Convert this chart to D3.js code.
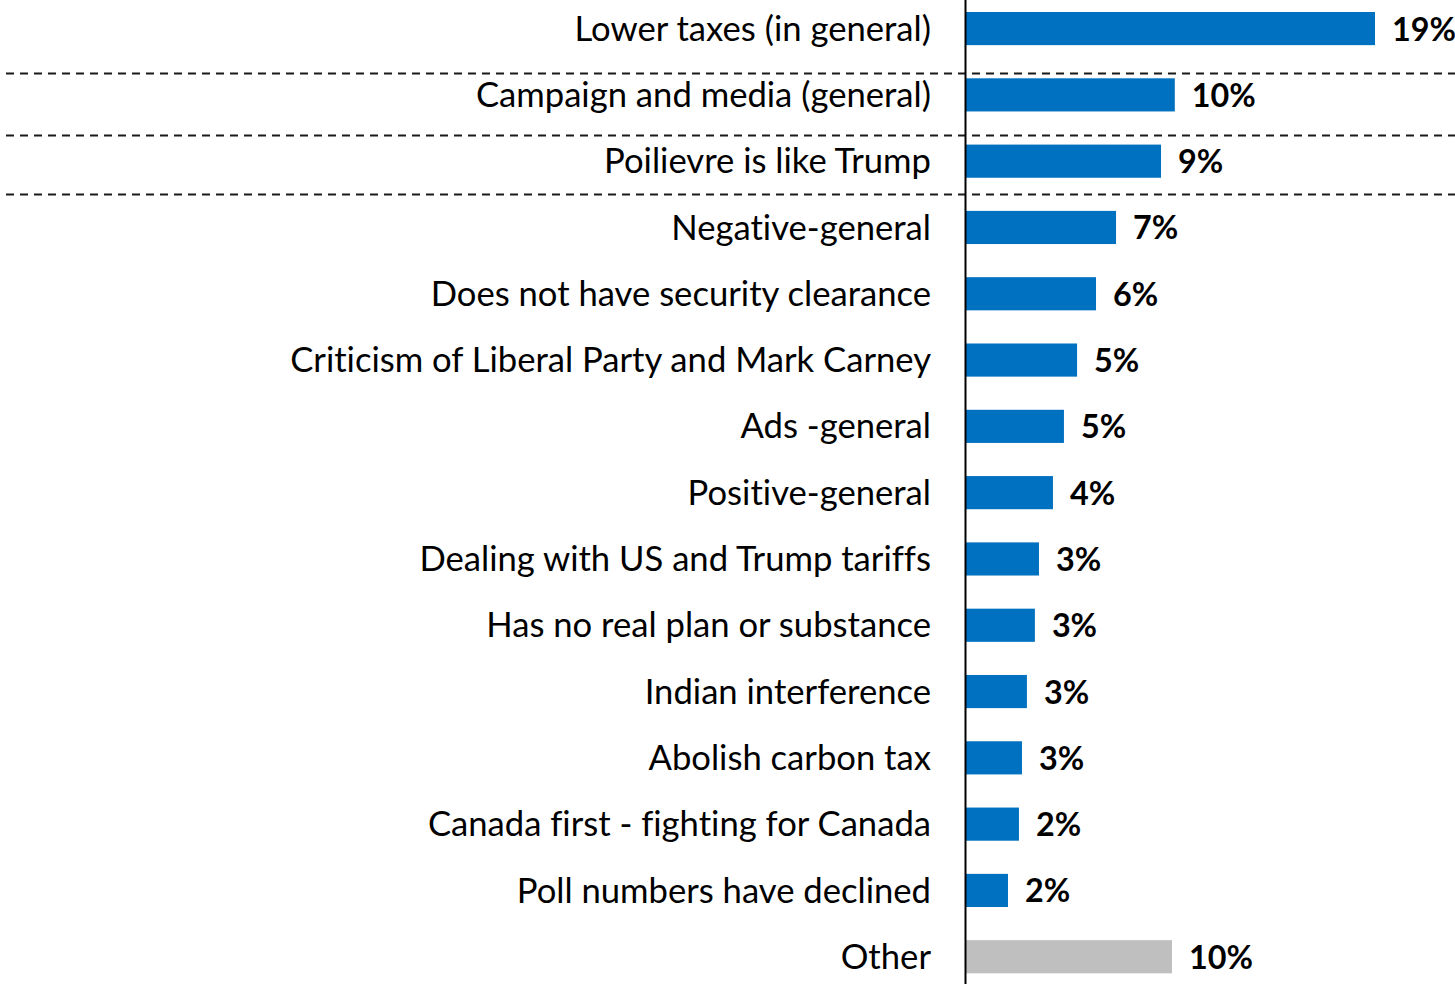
<!DOCTYPE html>
<html>
<head>
<meta charset="utf-8">
<script src="https://cdn.jsdelivr.net/npm/d3@7"></script>
<style>
  html, body { margin: 0; padding: 0; background: #fff; }
  svg { display: block; }
  .cat text { font-family: Lato, "Open Sans", sans-serif; fill: #000; font-variant-ligatures: none; }
  .val { font-family: Lato, "Open Sans", sans-serif; font-weight: 700; fill: #000; }
</style>
</head>
<body>
<svg id="chart" width="1455" height="984"></svg>
<script>
// Reasons mentioned, share of respondents (%)
const categories = [
  "Lower taxes (in general)",
  "Campaign and media (general)",
  "Poilievre is like Trump",
  "Negative-general",
  "Does not have security clearance",
  "Criticism of Liberal Party and Mark Carney",
  "Ads -general",
  "Positive-general",
  "Dealing with US and Trump tariffs",
  "Has no real plan or substance",
  "Indian interference",
  "Abolish carbon tax",
  "Canada first - fighting for Canada",
  "Poll numbers have declined",
  "Other"
];
const values = [19.0, 9.7, 9.06, 6.97, 6.04, 5.16, 4.55, 4.04, 3.39, 3.2, 2.83, 2.6, 2.46, 1.95, 9.57];
// Categories set apart from the rest by a dashed rule below them
const dividedAfter = ["Lower taxes (in general)", "Campaign and media (general)", "Poilievre is like Trump"];

const W = 1455, H = 984;
const axisX = 966;
const blue = "#0070C0", grey = "#BFBFBF";
const dividerShift = [0.925, 0.85, 0.74];   // where each rule sits within the following step

const svg = d3.select("#chart");

const x = d3.scaleLinear().domain([0, 19]).range([axisX, 1375]);
const y = d3.scaleBand().domain(categories).range([12, 973.3]).paddingInner(0.5).paddingOuter(0);

// dashed separators
svg.append("g").selectAll("line")
  .data(dividedAfter)
  .join("line")
  .attr("x1", 6).attr("x2", W)
  .attr("y1", (d, i) => Math.round(y(d) + y.step() * dividerShift[i]) + 0.5)
  .attr("y2", (d, i) => Math.round(y(d) + y.step() * dividerShift[i]) + 0.5)
  .attr("stroke", "#1a1a1a")
  .attr("stroke-width", 2)
  .attr("stroke-dasharray", "8 6");

// bars
svg.append("g").selectAll("rect")
  .data(categories)
  .join("rect")
  .attr("x", x(0))
  .attr("y", d => y(d))
  .attr("width", (d, i) => x(values[i]) - x(0))
  .attr("height", y.bandwidth())
  .attr("fill", d => d === "Other" ? grey : blue);

// category labels
const catAxis = svg.append("g")
  .attr("class", "cat")
  .attr("transform", `translate(${axisX},0)`)
  .call(d3.axisLeft(y).tickSize(0).tickPadding(35));
catAxis.select(".domain").remove();
catAxis.selectAll("text").attr("font-size", 36).attr("dy", "0.35em");

// size the label font so the longest label spans its measured width
let widest = 0;
catAxis.selectAll("text").each(function () { widest = Math.max(widest, this.getComputedTextLength()); });
const catSize = 36 * 641 / widest;
catAxis.selectAll("text").attr("font-size", catSize);

// value labels
const vals = svg.append("g").selectAll("text")
  .data(categories)
  .join("text")
  .attr("class", "val")
  .attr("x", (d, i) => x(values[i]) + 17)
  .attr("y", d => y(d) + y.bandwidth() / 2)
  .attr("dy", "0.37em")
  .attr("font-size", 36)
  .text((d, i) => Math.round(values[i]) + "%");
const ref = vals.filter(d => d === "Other").node().getComputedTextLength();
vals.attr("font-size", 36 * 64 / ref);

// vertical axis line
svg.append("line")
  .attr("x1", axisX - 0.5).attr("x2", axisX - 0.5)
  .attr("y1", 0).attr("y2", H)
  .attr("stroke", "#000")
  .attr("stroke-width", 2);
</script>
</body>
</html>
